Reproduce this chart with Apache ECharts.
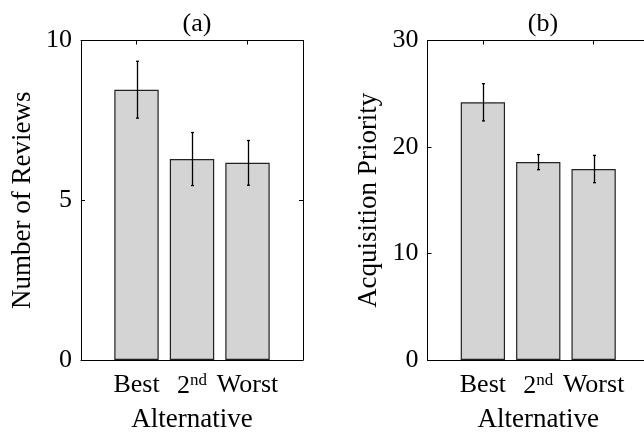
<!DOCTYPE html>
<html><head><meta charset="utf-8">
<script src="https://cdn.jsdelivr.net/npm/echarts@6/dist/echarts.min.js"></script>
<style>html,body{margin:0;padding:0;background:#fff}#c{width:644px;height:433px}</style>
</head><body><div id="c"></div>
<script>
const categories = ['Best', '2nd', 'Worst'];
const reviewsMean = [8.46, 6.29, 6.17];
const reviewsErr = [0.89, 0.83, 0.70];
const priorityMean = [24.2, 18.58, 17.93];
const priorityErr = [1.75, 0.71, 1.28];
const titles = ['(a)', '(b)'];
const yNames = ['Number of Reviews', 'Acquisition Priority'];
const xName = 'Alternative';
const yTicksA = {min: 0, max: 10, interval: 5};
const yTicksB = {min: 0, max: 30, interval: 10};

const FONT = 'Liberation Serif';
const FS = 26;
const FN = 27;
const cats = [''].concat(categories, ['']);
const pad = arr => ['-'].concat(arr, ['-']);

const chart = echarts.init(document.getElementById('c'), null, {renderer: 'canvas'});

const grids = [
  {left: 81, top: 40.5, width: 222, height: 319.5, containLabel: false, outerBoundsMode: 'none'},
  {left: 427.5, top: 40.5, width: 221.5, height: 319.5, containLabel: false, outerBoundsMode: 'none'}
];

function xAxes(gi, bottom) {
  return {
    type: 'category', gridIndex: gi, data: cats, boundaryGap: false,
    position: bottom ? 'bottom' : 'top',
    axisLine: {show: true, onZero: false, lineStyle: {color: '#000', width: 1}},
    axisTick: {show: true, inside: true, length: 4, lineStyle: {color: '#000'},
      interval: (i) => i === 1 || i === 3},
    axisLabel: bottom ? {
      show: true, interval: 0, margin: 12, color: '#000', fontFamily: FONT, fontSize: FS,
      formatter: (v) => v === '2nd' ? '{n|2}{s|nd}' : v,
      rich: {n: {fontFamily: FONT, fontSize: FS, color: '#000'},
             s: {fontFamily: FONT, fontSize: 17, color: '#000', padding: [0, 0, 12, 0]}}
    } : {show: false},
    name: bottom ? xName : '', nameLocation: 'middle', nameGap: 46,
    nameTextStyle: {color: '#000', fontFamily: FONT, fontSize: FN},
    splitLine: {show: false}
  };
}
function yAxes(gi, ticks, left) {
  return Object.assign({
    type: 'value', gridIndex: gi, position: left ? 'left' : 'right',
    axisLine: {show: true, lineStyle: {color: '#000', width: 1}},
    axisTick: {show: true, inside: true, length: 4, lineStyle: {color: '#000'}},
    axisLabel: left ? {show: true, margin: 9, color: '#000', fontFamily: FONT, fontSize: FS} : {show: false},
    splitLine: {show: false},
    name: left ? yNames[gi] : '', nameLocation: 'middle', nameGap: 45, nameRotate: 90,
    nameTextStyle: {color: '#000', fontFamily: FONT, fontSize: FN}
  }, ticks);
}

function errSeries(gi, xi, yi, mean, err) {
  const data = mean.map((m, i) => [i + 1, m - err[i], m + err[i]]);
  return {
    type: 'custom', xAxisIndex: xi, yAxisIndex: yi, z: 5,
    data: data,
    renderItem: (params, api) => {
      const x = api.value(0);
      const lo = api.coord([x, api.value(1)]);
      const hi = api.coord([x, api.value(2)]);
      const cx = Math.round(lo[0]) + 0.5;
      const st = {stroke: '#000', lineWidth: 1.3};
      return {type: 'group', children: [
        {type: 'line', shape: {x1: cx, y1: lo[1], x2: cx, y2: hi[1]}, style: st},
        {type: 'line', shape: {x1: cx - 1.5, y1: lo[1], x2: cx + 1.5, y2: lo[1]}, style: st},
        {type: 'line', shape: {x1: cx - 1.5, y1: hi[1], x2: cx + 1.5, y2: hi[1]}, style: st}
      ]};
    }
  };
}
function barSeries(xi, yi, mean) {
  return {
    type: 'bar', xAxisIndex: xi, yAxisIndex: yi, data: pad(mean), barWidth: '80%',
    itemStyle: {color: '#d4d4d4', borderColor: '#222', borderWidth: 1.2},
    silent: true, animation: false
  };
}

chart.setOption({
  animation: false,
  backgroundColor: '#fff',
  title: [
    {text: titles[0], left: 192, top: 6, textAlign: 'center',
     textStyle: {fontFamily: FONT, fontSize: FS, fontWeight: 'normal', color: '#000'}},
    {text: titles[1], left: 538, top: 6, textAlign: 'center',
     textStyle: {fontFamily: FONT, fontSize: FS, fontWeight: 'normal', color: '#000'}}
  ],
  grid: grids,
  xAxis: [xAxes(0, true), xAxes(0, false), xAxes(1, true), xAxes(1, false)],
  yAxis: [yAxes(0, yTicksA, true), yAxes(0, yTicksA, false), yAxes(1, yTicksB, true), yAxes(1, yTicksB, false)],
  series: [
    barSeries(0, 0, reviewsMean),
    errSeries(0, 0, 0, reviewsMean, reviewsErr),
    barSeries(2, 2, priorityMean),
    errSeries(1, 2, 2, priorityMean, priorityErr)
  ]
});
</script></body></html>
